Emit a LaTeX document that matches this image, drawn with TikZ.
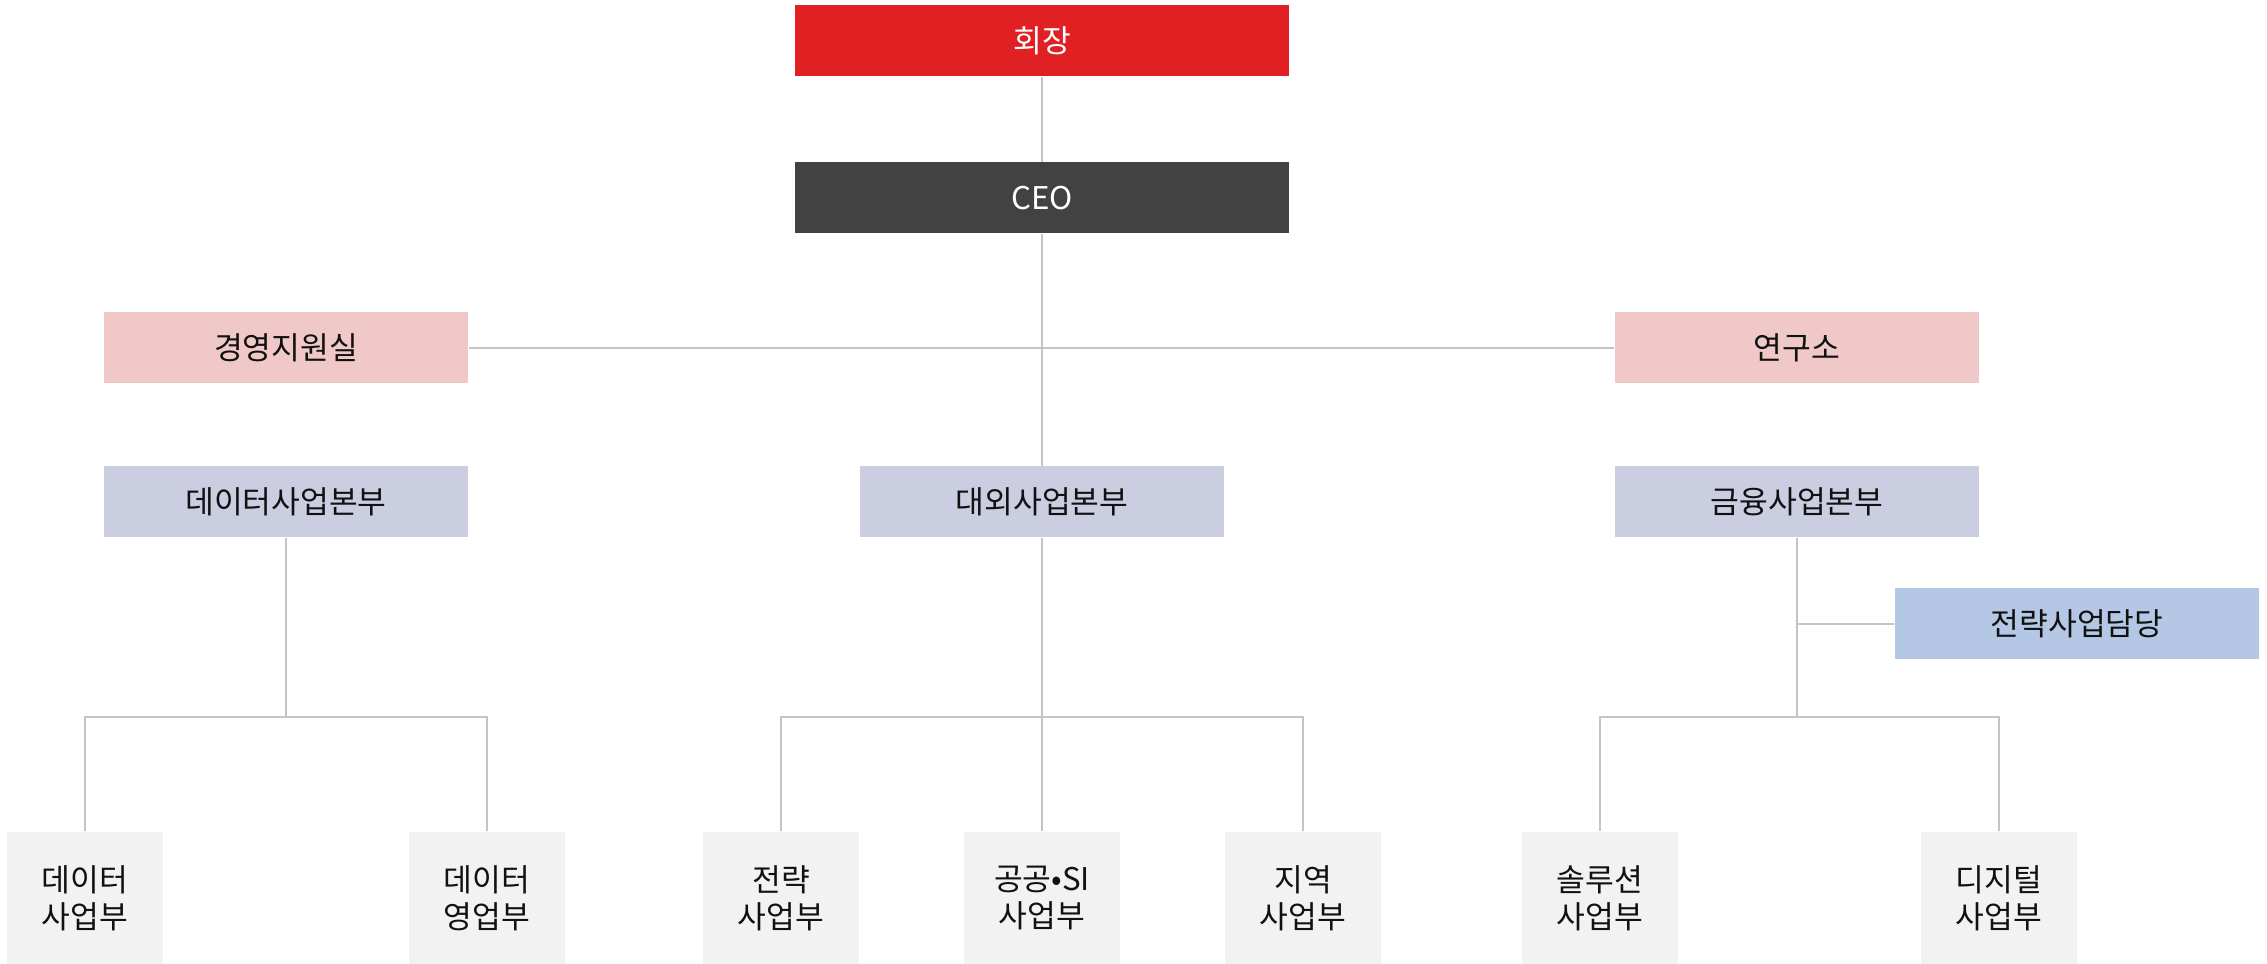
\documentclass[tikz,border=0pt]{standalone}
\usepackage{fontspec}
\setmainfont{Noto Sans CJK KR}
\usepackage{xcolor}
\usetikzlibrary{scopes}
\definecolor{chairred}{HTML}{E02022}
\definecolor{ceogray}{HTML}{424242}
\definecolor{staffpink}{HTML}{F0C8C8}
\definecolor{divlav}{HTML}{CBCDE0}
\definecolor{assignblue}{HTML}{B4C8E6}
\definecolor{deptgray}{HTML}{F2F2F2}
\definecolor{linkgray}{HTML}{C4C4C4}
\definecolor{inkblack}{HTML}{111111}

\begin{document}
\begin{tikzpicture}[
    x=0.1mm, y=-0.1mm,
    box/.style={rectangle,inner sep=0pt,minimum width=36.4mm,minimum height=7.1mm,
        font=\fontsize{8.9}{10.6}\selectfont,text=inkblack},
    top/.style={box,minimum width=49.4mm,text=white},
    staff/.style={box,fill=staffpink},
    div/.style={box,fill=divlav},
    assign/.style={box,fill=assignblue},
    dept/.style={box,fill=deptgray,minimum width=15.6mm,minimum height=13.3mm,align=center},
    link/.style={linkgray,line width=0.5pt},]
\useasboundingbox (0,0) rectangle (2267,964);
\node[top,fill=chairred] (chair) at (1042,41) {회장};
\node[top,fill=ceogray] (ceo) at (1042,198) {CEO};
\node[staff] (mgmt) at (286,348) {경영지원실};
\node[staff] (lab) at (1797,348) {연구소};
\node[div] (data) at (286,502) {데이터사업본부};
\node[div] (ext) at (1042,502) {대외사업본부};
\node[div] (fin) at (1797,502) {금융사업본부};
\node[assign] (strat) at (2077,624) {전략사업담당};
% departments
\node[dept] (d1) at (85,898) {데이터\\사업부};
\node[dept] (d2) at (487,898) {데이터\\영업부};
\node[dept] (e1) at (781,898) {전략\\사업부};
\node[dept] (e2) at (1042,898) {공공•SI\\사업부};
\node[dept] (e3) at (1303,898) {지역\\사업부};
\node[dept] (f1) at (1600,898) {솔루션\\사업부};
\node[dept] (f2) at (1999,898) {디지털\\사업부};
\coordinate (busD) at (286,717);
\coordinate (busE) at (1042,717);
\coordinate (busF) at (1797,717);
{[link]
    \draw (chair.south) -- (ceo.north);
    \draw (ceo.south) -- (ext.north);
    \draw (mgmt.east) -- (lab.west);
    \draw (data.south) -- (busD);
    \draw (d1.north) |- (busD) -| (d2.north);
    \draw (ext.south) -- (e2.north);
    \draw (e1.north) |- (busE) -| (e3.north);
    \draw (fin.south) -- (busF);
    \draw (strat.west) -- (fin.south |- strat.west);
    \draw (f1.north) |- (busF) -| (f2.north);
}
\end{tikzpicture}
\end{document}
